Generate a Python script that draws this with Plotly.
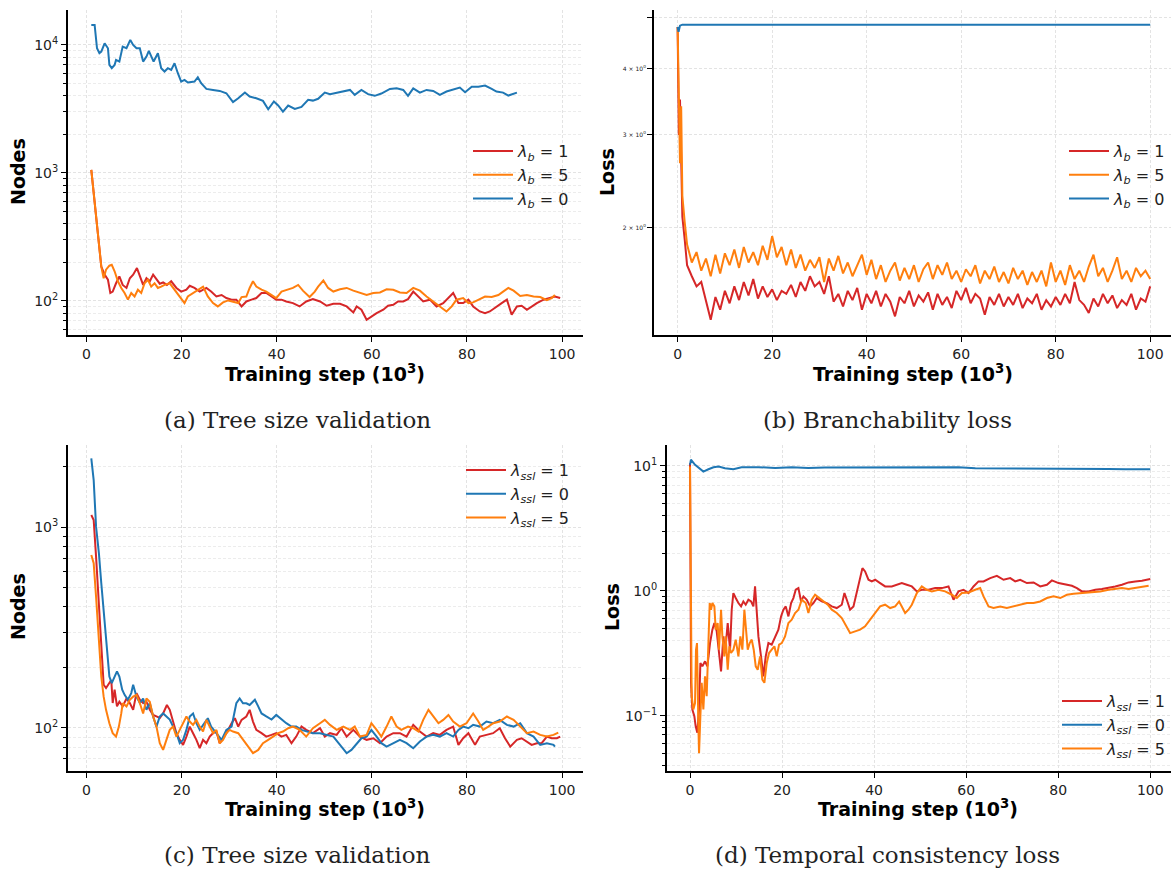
import plotly.graph_objects as go
import math

RED = "#d62728"
ORANGE = "#ff7f0e"
BLUE = "#1f77b4"

# ---------------- (a) Tree size validation : (step k, nodes) ----------------
a_lb1 = [(1.0, 1055), (3.1, 185), (3.8, 160), (4.5, 146), (5.0, 115), (5.5, 118), (6.2, 137), (6.9, 155),
         (7.6, 133), (8.4, 126), (9.1, 150), (9.8, 160), (10.6, 180), (11.2, 155), (11.9, 133), (12.6, 150),
         (13.3, 142), (14.0, 160), (14.7, 146), (15.4, 136), (16.1, 139), (16.9, 133), (17.8, 142), (18.9, 126),
         (19.9, 118), (21.0, 122), (21.7, 131), (22.7, 126), (23.8, 118), (25.2, 126), (26.2, 118), (27.3, 108),
         (28.4, 111), (29.4, 105), (30.5, 102), (31.5, 102), (32.6, 90.3), (33.6, 98.8), (34.7, 102), (35.7, 105),
         (36.8, 115), (37.8, 115), (38.9, 108), (39.9, 102), (41.0, 102), (42.0, 98.8), (43.4, 95.9), (44.8, 90.3),
         (46.2, 98.8), (47.6, 103), (49.1, 98.8), (50.5, 91.4), (51.9, 94.8), (53.3, 94.8), (54.7, 90.3),
         (56.1, 81.1), (56.8, 90.3), (57.8, 85.1), (58.9, 71.0), (59.9, 75.4), (61.0, 80.1), (62.4, 85.1),
         (63.4, 91.4), (64.5, 93.0), (65.5, 98.8), (66.6, 98.8), (67.6, 103), (68.7, 118), (69.8, 108),
         (70.8, 98.8), (72.2, 102), (73.6, 90.3), (75.0, 95.9), (76.4, 108), (77.1, 115), (78.2, 95.9),
         (79.2, 95.9), (80.3, 102), (81.3, 90.3), (82.7, 82.5), (83.8, 80.1), (84.8, 82.5), (86.2, 90.3),
         (87.3, 95.9), (88.4, 102), (89.4, 77.7), (90.5, 90.3), (91.5, 91.4), (92.6, 85.1), (93.6, 90.3),
         (94.7, 95.9), (96.1, 102), (97.5, 105), (98.5, 108), (99.6, 105)]
a_lb5 = [(1.0, 1055), (3.1, 185), (3.6, 150), (4.1, 175), (4.8, 188), (5.3, 191), (5.9, 170), (6.6, 142),
         (7.3, 126), (8.0, 115), (8.7, 102), (9.4, 115), (10.1, 108), (10.8, 122), (11.5, 115), (12.2, 137),
         (12.9, 146), (13.6, 129), (14.3, 137), (15.0, 126), (15.7, 129), (16.4, 133), (17.5, 137), (18.5, 122),
         (19.6, 108), (20.6, 95.9), (21.3, 108), (22.4, 115), (23.4, 122), (24.5, 129), (25.5, 108), (26.6, 95.9),
         (27.6, 90.3), (28.7, 97.1), (29.8, 100.6), (30.8, 98.8), (31.9, 95.9), (32.6, 106.8), (33.6, 108),
         (34.3, 126), (35.0, 142), (35.7, 129), (36.8, 122), (37.8, 118), (38.9, 111), (39.9, 105), (41.0, 118),
         (42.0, 122), (43.4, 126), (44.5, 133), (45.5, 120), (46.9, 107), (48.0, 118), (48.7, 129), (49.8, 144),
         (50.8, 126), (51.9, 118), (53.3, 123), (54.7, 126), (56.1, 120), (57.5, 115), (58.9, 111), (60.3, 115),
         (61.7, 116), (63.1, 123), (64.5, 122), (65.9, 116), (67.3, 115), (68.7, 126), (70.1, 120), (71.5, 108),
         (72.9, 98.8), (74.3, 90.3), (75.7, 82.5), (76.8, 90.3), (77.8, 102), (79.2, 105), (80.3, 95.9),
         (81.3, 97.1), (82.4, 102), (83.8, 108), (85.2, 107), (86.6, 111), (87.6, 118), (88.7, 126), (89.8, 120),
         (91.2, 109), (92.6, 111), (94.0, 108), (95.4, 107), (96.8, 101), (97.8, 105), (98.5, 111)]
a_lb0 = [(1.0, 14330), (1.7, 14330), (2.2, 9420), (2.7, 8610), (3.1, 8870), (3.8, 10300), (4.5, 9420),
         (4.8, 6980), (5.3, 6580), (5.9, 6980), (6.2, 7640), (6.9, 7410), (7.6, 9700), (8.4, 9420), (9.2, 10940),
         (9.8, 10000), (10.5, 9420), (11.2, 9420), (11.9, 7410), (12.6, 8110), (13.1, 8980), (13.6, 8110),
         (14.1, 7410), (15.0, 8610), (15.7, 6580), (16.4, 6190), (17.1, 6580), (17.8, 6380), (18.5, 7190),
         (19.2, 6010), (19.9, 5170), (20.6, 5330), (21.3, 5080), (22.7, 5170), (23.4, 5590), (24.1, 5020),
         (25.2, 4530), (26.6, 4450), (28.0, 4370), (29.4, 4190), (30.8, 3570), (31.9, 3830), (33.3, 4240),
         (34.3, 3950), (35.7, 3830), (37.1, 3650), (38.2, 3140), (39.4, 3610), (40.3, 3360), (41.3, 3010),
         (42.4, 3360), (43.8, 3160), (45.2, 3280), (46.6, 3720), (47.6, 3670), (48.7, 3790), (50.1, 4240),
         (51.2, 4120), (52.6, 4240), (54.0, 4320), (55.4, 4450), (56.4, 4070), (57.8, 4450), (59.2, 4120),
         (60.6, 4000), (62.0, 4170), (63.8, 4530), (65.2, 4580), (66.6, 4450), (67.6, 4000), (68.7, 4580),
         (70.1, 4240), (71.5, 4450), (72.9, 4370), (74.3, 4070), (75.7, 4320), (77.1, 4450), (78.5, 4640),
         (79.6, 4270), (81.0, 4720), (82.4, 4720), (83.8, 4810), (85.2, 4530), (86.2, 4320), (87.6, 4240),
         (88.7, 4020), (90.5, 4240)]

# ---------------- (b) Branchability loss ----------------
b_steps = [0, 0.25, 0.5, 0.75, 1, 1.5] + list(range(2, 101))
b_lb1 = [4.80, 3.0, 3.5, 2.6, 2.1, 1.9,
         1.70, 1.62, 1.55, 1.58, 1.45, 1.34, 1.48, 1.40, 1.52, 1.44,
         1.55, 1.46, 1.58, 1.49, 1.60, 1.47, 1.55, 1.48, 1.53, 1.46,
         1.52, 1.50, 1.56, 1.48, 1.58, 1.52, 1.62, 1.55, 1.58, 1.50,
         1.62, 1.45, 1.50, 1.42, 1.52, 1.46, 1.54, 1.40, 1.50, 1.44,
         1.52, 1.42, 1.50, 1.45, 1.36, 1.48, 1.44, 1.52, 1.42, 1.49,
         1.45, 1.51, 1.40, 1.50, 1.43, 1.48, 1.41, 1.52, 1.46, 1.54,
         1.44, 1.50, 1.47, 1.37, 1.48, 1.43, 1.50, 1.42, 1.48, 1.43,
         1.50, 1.41, 1.47, 1.44, 1.50, 1.40, 1.46, 1.42, 1.48, 1.43,
         1.50, 1.44, 1.58, 1.46, 1.43, 1.38, 1.47, 1.42, 1.50, 1.44,
         1.49, 1.41, 1.46, 1.43, 1.50, 1.40, 1.47, 1.45, 1.55]
b_lb5 = [4.80, 3.6, 2.65, 3.4, 2.3, 2.05,
         1.86, 1.72, 1.80, 1.66, 1.75, 1.62, 1.78, 1.64, 1.79, 1.70,
         1.82, 1.68, 1.84, 1.72, 1.80, 1.70, 1.85, 1.74, 1.93, 1.76,
         1.84, 1.70, 1.82, 1.68, 1.78, 1.66, 1.74, 1.68, 1.76, 1.58,
         1.75, 1.66, 1.77, 1.64, 1.72, 1.62, 1.70, 1.78, 1.63, 1.74,
         1.60, 1.70, 1.58, 1.66, 1.72, 1.59, 1.68, 1.60, 1.70, 1.58,
         1.67, 1.72, 1.60, 1.70, 1.63, 1.72, 1.60, 1.66, 1.58, 1.67,
         1.62, 1.70, 1.57, 1.66, 1.60, 1.69, 1.58, 1.65, 1.57, 1.68,
         1.60, 1.66, 1.56, 1.65, 1.58, 1.66, 1.55, 1.72, 1.58, 1.66,
         1.56, 1.70, 1.60, 1.66, 1.58, 1.69, 1.78, 1.62, 1.68, 1.58,
         1.66, 1.76, 1.60, 1.66, 1.58, 1.68, 1.62, 1.66, 1.60]
b_lb0_steps = [0, 0.2, 0.5, 1, 10, 20, 30, 40, 50, 60, 70, 80, 90, 100]
b_lb0 = [4.80, 4.70, 4.83, 4.85, 4.85, 4.85, 4.85, 4.85, 4.85, 4.85, 4.85, 4.85, 4.85, 4.85]

# ---------------- (c) Tree size validation (ssl) ----------------
c_ls1 = [(1.0, 1147), (1.5, 1083), (2.0, 712), (2.6, 402), (3.1, 244), (3.6, 164), (4.1, 158), (4.7, 167),
         (5.2, 173), (5.5, 133), (5.9, 155), (6.4, 128), (6.9, 135), (7.6, 128), (8.4, 140), (9.1, 133),
         (9.8, 123), (10.5, 149), (11.2, 138), (11.9, 133), (12.6, 135), (13.3, 123), (14.0, 116), (14.7, 114),
         (15.4, 112), (16.1, 118), (16.9, 130), (17.5, 123), (18.2, 106), (18.9, 94.1), (19.6, 87.2), (20.3, 82.3),
         (21.0, 90.5), (21.7, 101.5), (22.4, 94.1), (23.1, 87.2), (23.8, 79.2), (24.5, 87.2), (25.2, 83.9),
         (25.9, 90.5), (26.6, 94.1), (27.3, 95.9), (28.0, 83.9), (29.4, 94.1), (30.5, 105.5), (31.2, 111.7),
         (31.9, 101.5), (32.6, 109.6), (33.6, 113.9), (34.3, 122.9), (35.0, 107.5), (35.7, 97.7), (36.8, 94.1),
         (37.8, 90.5), (38.9, 92.3), (39.9, 94.1), (41.0, 90.5), (42.0, 92.3), (43.1, 83.9), (44.1, 90.5),
         (45.2, 101.5), (46.2, 97.7), (47.6, 94.1), (49.1, 99.6), (50.1, 90.5), (51.2, 94.1), (52.6, 92.3),
         (53.6, 99.6), (54.7, 90.5), (56.1, 97.7), (57.5, 90.5), (58.9, 87.2), (60.3, 88.8), (61.7, 83.9),
         (63.1, 90.5), (64.5, 94.1), (65.9, 94.1), (67.3, 90.5), (68.7, 103.5), (70.1, 95.9), (71.5, 90.5),
         (72.9, 94.1), (74.3, 92.3), (75.7, 97.7), (77.1, 101.5), (78.2, 82.3), (79.2, 88.8), (80.3, 94.1),
         (81.7, 82.3), (82.7, 90.5), (84.1, 92.3), (85.5, 94.1), (86.9, 99.6), (88.0, 88.8), (89.1, 80.7),
         (90.5, 87.2), (91.5, 88.8), (92.6, 85.5), (93.6, 82.3), (94.7, 83.9), (95.7, 83.9), (96.8, 90.5),
         (97.8, 88.8), (98.9, 88.8), (99.6, 90.5)]
c_ls0 = [(1.0, 2196), (1.5, 1713), (2.0, 1004), (2.6, 740), (3.1, 525), (3.6, 387), (4.1, 274), (4.4, 226),
         (4.8, 180), (5.3, 167), (5.9, 180), (6.4, 191), (6.9, 180), (7.5, 155), (8.0, 146), (8.7, 138),
         (9.4, 149), (9.8, 164), (10.5, 143), (11.2, 133), (11.9, 140), (12.6, 123), (13.3, 133), (14.0, 114),
         (14.7, 101.5), (15.4, 114), (16.1, 118), (16.9, 114), (17.5, 110), (18.2, 101.5), (18.9, 94.1),
         (19.6, 83.9), (20.3, 87.2), (21.0, 97.7), (21.7, 114), (22.4, 118), (23.1, 105.5), (23.8, 97.7),
         (24.8, 105.5), (25.5, 111.7), (26.2, 101.5), (27.3, 94.1), (28.4, 87.2), (29.4, 97.7), (30.5, 101.5),
         (31.5, 132.6), (32.2, 140), (32.9, 132.6), (33.6, 132.6), (34.3, 130), (35.4, 138), (36.1, 128),
         (36.8, 118), (37.8, 114), (38.9, 110), (39.9, 116), (41.0, 110), (42.0, 105.5), (43.1, 101.5),
         (44.1, 101.5), (45.2, 97.7), (46.2, 95.9), (47.6, 94.1), (49.1, 94.1), (50.5, 92.3), (51.9, 90.5),
         (53.3, 82.3), (54.7, 74.8), (55.7, 77.7), (56.8, 83.9), (57.8, 88.8), (58.9, 90.5), (59.9, 97.7),
         (61.0, 90.5), (62.0, 83.9), (63.1, 80.7), (64.5, 83.9), (65.9, 87.2), (67.3, 83.9), (68.7, 79.2),
         (70.1, 85.5), (71.5, 90.5), (72.9, 92.3), (74.3, 90.5), (75.7, 94.1), (77.1, 90.5), (78.2, 97.7),
         (79.2, 101.5), (80.3, 99.6), (81.3, 103.5), (82.7, 101.5), (84.1, 107.5), (85.5, 105.5), (86.9, 109.6),
         (88.4, 103.5), (89.8, 101.5), (91.2, 105.5), (92.6, 94.1), (94.0, 90.5), (95.4, 82.3), (96.8, 83.9),
         (98.2, 82.3), (98.5, 80.7)]
c_ls5 = [(1.0, 726), (1.5, 660), (2.0, 450), (2.6, 285), (3.1, 180), (3.6, 143), (4.1, 123), (4.8, 105.5),
         (5.5, 94.1), (6.2, 90.5), (6.8, 101.5), (7.3, 118), (7.6, 132.6), (8.4, 128), (9.1, 138), (9.8, 143),
         (10.5, 146), (11.2, 133), (11.9, 118), (12.6, 140), (13.3, 135), (14.0, 114), (14.7, 101.5), (15.4, 83.9),
         (16.1, 77.7), (16.8, 87.2), (17.5, 97.7), (18.2, 101.5), (18.9, 90.5), (19.6, 97.7), (20.3, 105.5),
         (21.0, 114), (21.7, 107.5), (22.4, 103.5), (23.1, 109.6), (23.8, 101.5), (24.5, 95.9), (25.2, 109.6),
         (25.9, 101.5), (26.6, 94.1), (27.3, 97.7), (28.0, 83.9), (28.7, 87.2), (29.4, 94.1), (30.1, 97.7),
         (30.8, 95.9), (31.9, 94.1), (32.9, 87.2), (34.0, 80.7), (35.0, 74.8), (36.1, 77.7), (37.1, 83.9),
         (38.2, 87.2), (39.2, 90.5), (40.3, 94.1), (41.3, 95.9), (42.4, 99.6), (43.4, 101.5), (44.8, 97.7),
         (46.2, 90.5), (47.6, 99.6), (49.1, 105.5), (50.1, 109.6), (51.2, 103.5), (52.6, 97.7), (54.0, 101.5),
         (55.4, 97.7), (56.4, 101.5), (57.5, 90.5), (58.9, 92.3), (59.9, 105.5), (61.0, 97.7), (62.0, 90.5),
         (63.1, 101.5), (64.1, 114), (65.2, 101.5), (66.2, 97.7), (67.6, 101.5), (68.7, 99.6), (69.8, 95.9),
         (70.8, 109.6), (71.9, 122.9), (72.9, 113.9), (74.0, 105.5), (75.0, 109.6), (76.1, 116), (77.1, 107.5),
         (78.5, 101.5), (79.9, 105.5), (81.3, 118), (82.4, 107.5), (83.4, 97.7), (84.5, 101.5), (85.5, 105.5),
         (86.9, 107.5), (88.4, 113.9), (89.8, 109.6), (91.2, 101.5), (92.6, 94.1), (94.0, 95.9), (95.4, 92.3),
         (96.8, 90.5), (98.2, 92.3), (99.2, 94.8)]

# ---------------- (d) Temporal consistency loss ----------------
d_ls1 = [(0, 10.5), (0.22, 0.183), (0.51, 0.112), (0.94, 0.099), (1.23, 0.082), (1.59, 0.073), (1.96, 0.112),
         (2.25, 0.264), (2.68, 0.248), (3.26, 0.272), (3.77, 0.248), (4.35, 0.381), (4.86, 0.488), (5.29, 0.551),
         (5.80, 0.473), (6.30, 0.337), (6.74, 0.226), (7.25, 0.431), (7.61, 0.317), (8.19, 0.551), (8.70, 0.337),
         (9.06, 0.705), (9.42, 0.958), (9.93, 0.874), (10.51, 0.797), (11.09, 0.749), (11.59, 0.821),
         (12.10, 0.773), (12.68, 0.847), (13.26, 0.821), (13.77, 0.749), (14.13, 1.083), (14.49, 0.623),
         (14.86, 0.431), (15.43, 0.298), (15.94, 0.206), (16.45, 0.298), (17.03, 0.381), (17.75, 0.370),
         (18.48, 0.431), (19.20, 0.488), (19.78, 0.623), (20.29, 0.705), (20.80, 0.749), (21.38, 0.623),
         (21.96, 0.797), (22.46, 0.874), (22.97, 1.019), (23.55, 1.050), (24.13, 0.821), (24.64, 0.901),
         (25.36, 0.847), (26.09, 0.749), (26.81, 0.797), (27.54, 0.874), (28.62, 0.821), (29.71, 0.797),
         (30.80, 0.749), (31.88, 0.727), (32.97, 0.773), (33.55, 0.958), (34.06, 0.847), (34.78, 0.705),
         (35.51, 0.749), (36.23, 0.958), (36.96, 1.263), (37.46, 1.518), (38.04, 1.428), (38.77, 1.225),
         (39.49, 1.188), (40.22, 1.225), (41.30, 1.152), (42.39, 1.083), (43.84, 1.083), (44.93, 1.117),
         (46.01, 1.152), (47.10, 1.117), (48.19, 1.083), (49.28, 0.988), (50.36, 1.019), (51.81, 1.019),
         (53.26, 1.050), (54.71, 1.050), (56.16, 1.083), (57.25, 0.847), (58.33, 0.988), (59.42, 1.019),
         (60.51, 0.958), (61.59, 1.083), (62.68, 1.188), (63.77, 1.188), (65.22, 1.263), (66.67, 1.318),
         (68.12, 1.225), (69.57, 1.263), (70.65, 1.188), (71.74, 1.225), (73.19, 1.152), (74.64, 1.166),
         (76.09, 1.083), (77.54, 1.117), (78.62, 1.210), (80.07, 1.152), (81.52, 1.117), (82.97, 1.096),
         (84.06, 1.050), (85.14, 0.988), (86.59, 0.988), (88.04, 1.019), (89.49, 1.031), (90.94, 1.050),
         (92.39, 1.083), (93.84, 1.117), (95.29, 1.166), (96.74, 1.188), (98.19, 1.202), (100.0, 1.240)]
d_ls0 = [(0, 10.2), (0.2, 11.2), (1.1, 10.2), (2.9, 9.01), (4.0, 9.40), (5.1, 9.76), (6.2, 9.88), (7.6, 9.58),
         (9.4, 9.40), (11.2, 9.76), (14.9, 9.76), (18.5, 9.64), (22.1, 9.76), (25.7, 9.64), (29.3, 9.70),
         (33.0, 9.70), (36.6, 9.76), (40.2, 9.70), (43.8, 9.70), (47.5, 9.64), (51.1, 9.64), (54.7, 9.70),
         (58.3, 9.76), (62.0, 9.58), (65.6, 9.58), (69.2, 9.58), (72.8, 9.52), (76.4, 9.52), (80.1, 9.46),
         (83.7, 9.46), (87.3, 9.46), (90.9, 9.46), (94.6, 9.40), (98.2, 9.40), (100.0, 9.40)]
d_ls5 = [(0, 9.88), (0.14, 2.13), (0.36, 0.143), (0.72, 0.112), (1.09, 0.126), (1.30, 0.337), (1.52, 0.381),
         (1.81, 0.087), (1.96, 0.050), (2.25, 0.099), (2.54, 0.183), (2.90, 0.112), (3.26, 0.206), (3.62, 0.143),
         (3.99, 0.431), (4.28, 0.797), (4.57, 0.705), (4.86, 0.797), (5.29, 0.749), (5.58, 0.488), (6.01, 0.551),
         (6.30, 0.337), (6.74, 0.705), (7.03, 0.431), (7.46, 0.298), (7.75, 0.431), (8.19, 0.233), (8.55, 0.359),
         (8.91, 0.317), (9.42, 0.337), (9.93, 0.406), (10.51, 0.298), (10.94, 0.431), (11.38, 0.337),
         (11.81, 0.705), (12.10, 0.551), (12.54, 0.337), (12.97, 0.381), (13.41, 0.406), (13.84, 0.337),
         (14.28, 0.248), (14.71, 0.233), (15.22, 0.298), (15.72, 0.194), (16.16, 0.183), (16.67, 0.264),
         (17.17, 0.317), (17.75, 0.337), (18.33, 0.359), (18.84, 0.298), (19.35, 0.370), (19.93, 0.381),
         (20.65, 0.431), (21.38, 0.551), (22.10, 0.586), (22.83, 0.663), (23.55, 0.705), (24.28, 0.847),
         (25.14, 0.797), (25.72, 0.663), (26.45, 0.847), (27.17, 0.929), (28.04, 0.874), (28.99, 0.821),
         (29.93, 0.773), (30.80, 0.705), (31.88, 0.663), (32.97, 0.605), (34.06, 0.519), (34.78, 0.458),
         (35.87, 0.473), (36.96, 0.488), (38.04, 0.519), (39.13, 0.586), (40.22, 0.663), (41.30, 0.749),
         (42.39, 0.773), (43.48, 0.727), (44.57, 0.749), (45.43, 0.821), (46.01, 0.749), (46.74, 0.663),
         (47.46, 0.705), (48.19, 0.773), (49.28, 0.958), (50.36, 1.083), (51.45, 1.019), (52.54, 0.988),
         (53.99, 1.019), (55.43, 0.988), (56.88, 0.929), (57.97, 0.874), (59.06, 0.958), (60.51, 0.970),
         (61.96, 1.019), (63.04, 1.050), (63.77, 0.901), (64.86, 0.749), (65.94, 0.727), (67.39, 0.749),
         (68.84, 0.727), (70.29, 0.749), (71.74, 0.773), (73.19, 0.797), (74.64, 0.797), (76.09, 0.821),
         (77.54, 0.874), (78.99, 0.901), (80.43, 0.874), (81.88, 0.929), (83.33, 0.946), (84.78, 0.958),
         (86.23, 0.970), (87.68, 0.988), (89.13, 0.988), (90.94, 1.019), (92.39, 1.031), (93.84, 1.050),
         (95.29, 1.031), (96.74, 1.050), (98.19, 1.083), (99.64, 1.096)]

x_ticks = [0, 20, 40, 60, 80, 100]
captions = ["(a) Tree size validation", "(b) Branchability loss",
            "(c) Tree size validation", "(d) Temporal consistency loss"]

W, H = 1171, 871
FONT = "DejaVu Sans"

fig = go.Figure()


def add(xs, ys, color, name, axis_idx, legend):
    sfx = "" if axis_idx == 1 else str(axis_idx)
    fig.add_trace(go.Scatter(x=xs, y=ys, mode="lines", name=name,
                             line=dict(color=color, width=2),
                             xaxis="x" + sfx, yaxis="y" + sfx, legend=legend,
                             hoverinfo="skip"))


def unz(pairs):
    return [p[0] for p in pairs], [p[1] for p in pairs]


lb = lambda v: f"<i>λ<sub>b</sub></i> = {v}"
ls = lambda v: f"<i>λ<sub>ssl</sub></i> = {v}"

add(*unz(a_lb1), RED, lb(1), 1, "legend")
add(*unz(a_lb5), ORANGE, lb(5), 1, "legend")
add(*unz(a_lb0), BLUE, lb(0), 1, "legend")

add(b_steps, b_lb1, RED, lb(1), 2, "legend2")
add(b_steps, b_lb5, ORANGE, lb(5), 2, "legend2")
add(b_lb0_steps, b_lb0, BLUE, lb(0), 2, "legend2")

add(*unz(c_ls1), RED, ls(1), 3, "legend3")
add(*unz(c_ls0), BLUE, ls(0), 3, "legend3")
add(*unz(c_ls5), ORANGE, ls(5), 3, "legend3")

add(*unz(d_ls1), RED, ls(1), 4, "legend4")
add(*unz(d_ls0), BLUE, ls(0), 4, "legend4")
add(*unz(d_ls5), ORANGE, ls(5), 4, "legend4")

GRID = "#e3e3e3"


def px_x(p):
    return p / W


def px_y(p):
    return 1 - p / H


def xaxis(dom, rng, anchor):
    return dict(domain=dom, range=rng, anchor=anchor, tickvals=x_ticks,
                showline=True, linecolor="black", linewidth=2, mirror=False,
                ticks="outside", ticklen=5, tickwidth=1, tickcolor="black",
                tickfont=dict(family=FONT, size=14, color="#222"),
                showgrid=True, gridcolor=GRID, griddash="3px,2px", gridwidth=1,
                zeroline=False, fixedrange=True)


def yaxis(dom, rng, anchor, tv, tt, minor_vals, tfs=14):
    return dict(domain=dom, type="log", range=rng, anchor=anchor,
                tickvals=tv, ticktext=tt,
                showline=True, linecolor="black", linewidth=2, mirror=False,
                ticks="outside", ticklen=5, tickwidth=1, tickcolor="black",
                tickfont=dict(family=FONT, size=tfs, color="#222"),
                showgrid=True, gridcolor=GRID, griddash="3px,2px", gridwidth=1,
                minor=dict(tickvals=minor_vals, ticks="outside", ticklen=3, tickwidth=1,
                           tickcolor="black", showgrid=True, gridcolor="#ececec",
                           griddash="3px,2px", gridwidth=1),
                zeroline=False, fixedrange=True)


AX = [px_x(68), px_x(583)]
BX = [px_x(654), 1.0]
DX = [px_x(667), 1.0]
TOPY = [px_y(335), px_y(10)]
BOTY = [px_y(771), px_y(445)]

a_minor = [60, 70, 80, 90, 200, 300, 400, 500, 600, 700, 800, 900,
           2000, 3000, 4000, 5000, 6000, 7000, 8000, 9000]
c_minor = [70, 80, 90, 200, 300, 400, 500, 600, 700, 800, 900, 2000]
d_minor = [0.04, 0.05, 0.06, 0.07, 0.08, 0.09, 0.2, 0.3, 0.4, 0.5, 0.6, 0.7, 0.8, 0.9,
           2, 3, 4, 5, 6, 7, 8, 9]

fig.update_layout(
    width=W, height=H, margin=dict(l=0, r=0, t=0, b=0),
    paper_bgcolor="white", plot_bgcolor="white",
    xaxis=xaxis(AX, [-3.9, 104.4], "y"),
    yaxis=yaxis(TOPY, [math.log10(54), math.log10(18750)], "x",
                [100, 1000, 10000], ["10<sup>2</sup>", "10<sup>3</sup>", "10<sup>4</sup>"], a_minor),
    xaxis2=xaxis(BX, [-5.0, 104.4], "y2"),
    yaxis2=yaxis(TOPY, [math.log10(1.254), math.log10(5.17)], "x2",
                 [2, 3, 4, 5], ["2 × 10<sup>0</sup>", "3 × 10<sup>0</sup>", "4 × 10<sup>0</sup>", ""],
                 [], tfs=6),
    xaxis3=xaxis(AX, [-3.9, 104.4], "y3"),
    yaxis3=yaxis(BOTY, [math.log10(61), math.log10(2560)], "x3",
                 [100, 1000], ["10<sup>2</sup>", "10<sup>3</sup>"], c_minor),
    xaxis4=xaxis(DX, [-5.0, 104.5], "y4"),
    yaxis4=yaxis(BOTY, [math.log10(0.036), math.log10(14.7)], "x4",
                 [0.1, 1, 10], ["10<sup>−1</sup>", "10<sup>0</sup>", "10<sup>1</sup>"], d_minor),
    showlegend=True,
)

leg_common = dict(font=dict(family=FONT, size=16, color="#222"), bgcolor="rgba(255,255,255,0)",
                  borderwidth=0, xanchor="right", yanchor="top", tracegroupgap=0, itemwidth=40)
fig.update_layout(
    legend=dict(x=px_x(575), y=px_y(134), **leg_common),
    legend2=dict(x=px_x(1171), y=px_y(134), **leg_common),
    legend3=dict(x=px_x(575), y=px_y(453), **leg_common),
    legend4=dict(x=px_x(1171), y=px_y(684), **leg_common),
)

ann = []
title_font = dict(family=FONT, size=19, color="black")
xt = "<b>Training step (10<sup>3</sup>)</b>"
for cx, cy in [(325, 373), (913, 373), (325, 808), (918, 808)]:
    ann.append(dict(text=xt, x=px_x(cx), y=px_y(cy), xref="paper", yref="paper",
                    xanchor="center", yanchor="middle", showarrow=False, font=title_font))
for txt, cx, cy in [("Nodes", 18, 172), ("Loss", 607, 172), ("Nodes", 18, 607), ("Loss", 612, 607)]:
    ann.append(dict(text=f"<b>{txt}</b>", x=px_x(cx), y=px_y(cy), xref="paper", yref="paper",
                    xanchor="center", yanchor="middle", showarrow=False, textangle=-90, font=title_font))
cap_font = dict(family="DejaVu Serif", size=23, color="#222")
for txt, cx, cy in zip(captions, [297, 887, 297, 887], [420, 420, 855, 855]):
    ann.append(dict(text=txt, x=px_x(cx), y=px_y(cy), xref="paper", yref="paper",
                    xanchor="center", yanchor="middle", showarrow=False, font=cap_font))
fig.update_layout(annotations=ann)

fig.write_html("out.html", config={"displayModeBar": False})
